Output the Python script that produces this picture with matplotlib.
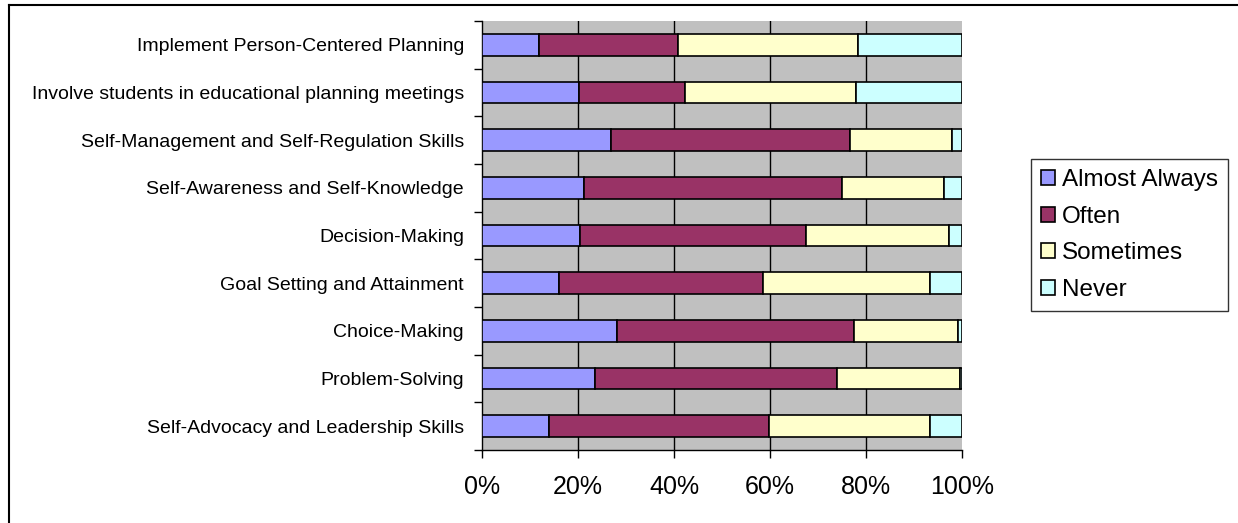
import matplotlib.pyplot as plt
import numpy as np
from matplotlib.lines import Line2D

plt.rcParams['font.family'] = ['Liberation Sans', 'DejaVu Sans']

# categories, top to bottom
categories = [
    "Implement Person-Centered Planning",
    "Involve students in educational planning meetings",
    "Self-Management and Self-Regulation Skills",
    "Self-Awareness and Self-Knowledge",
    "Decision-Making",
    "Goal Setting and Attainment",
    "Choice-Making",
    "Problem-Solving",
    "Self-Advocacy and Leadership Skills",
]

# percent of responses per category
almost_always = [11.9, 20.3, 26.9, 21.3, 20.5, 16.0, 28.2, 23.6, 13.9]
often = [29.0, 22.0, 49.7, 53.6, 47.0, 42.6, 49.4, 50.3, 45.8]
sometimes = [37.4, 35.6, 21.3, 21.4, 29.7, 34.7, 21.6, 25.7, 33.6]
never = [21.7, 22.1, 2.1, 3.7, 2.8, 6.7, 0.8, 0.4, 6.7]

series = ["Almost Always", "Often", "Sometimes", "Never"]
colors = ["#9999FF", "#993366", "#FFFFCC", "#CCFFFF"]

fig = plt.figure(figsize=(12.38, 5.23), dpi=100)
ax = fig.add_axes([482 / 1238, 1 - 450 / 523, 480 / 1238, 429 / 523])
ax.set_facecolor("#C0C0C0")

y = np.arange(len(categories))
left = np.zeros(len(categories))
for name, vals, c in zip(series, [almost_always, often, sometimes, never], colors):
    vals = np.array(vals)
    ax.barh(y, vals, left=left, height=0.45, color=c, edgecolor="black",
            linewidth=1.2, label=name, zorder=3)
    left += vals

ax.set_xlim(0, 100)
ax.set_ylim(len(categories) - 0.5, -0.5)

for gx in [20, 40, 60, 80]:
    ax.axvline(gx, color="black", linewidth=1, zorder=1)

ax.spines["top"].set_visible(False)
ax.spines["right"].set_visible(False)
ax.spines["left"].set_linewidth(1)
ax.spines["bottom"].set_linewidth(1)

ax.set_xticks([0, 20, 40, 60, 80, 100])
ax.set_xticklabels(["0%", "20%", "40%", "60%", "80%", "100%"], fontsize=18)
ax.tick_params(axis="x", direction="out", length=6, width=1, pad=12)

ax.set_yticks(y)
ax.set_yticklabels(categories, fontsize=14)
ax.set_yticks(np.arange(len(categories) + 1) - 0.5, minor=True)
ax.tick_params(axis="y", which="major", length=0, pad=13)
ax.tick_params(axis="y", which="minor", direction="out", length=6, width=1)

leg = ax.legend(loc="upper left", bbox_to_anchor=(1031 / 1238, 1 - 159 / 523),
                bbox_transform=fig.transFigure, fontsize=17.5, frameon=True,
                fancybox=False, edgecolor="black", borderaxespad=0,
                handlelength=0.55, handleheight=0.55, handletextpad=0.3,
                labelspacing=0.6, borderpad=0.42)
leg.get_frame().set_linewidth(1)

# outer chart frame
fig.add_artist(Line2D([8.5 / 1238, 8.5 / 1238], [0, 1 - 5 / 523],
                      transform=fig.transFigure, color="black", linewidth=1.5))
fig.add_artist(Line2D([8.5 / 1238, 1], [1 - 5 / 523, 1 - 5 / 523],
                      transform=fig.transFigure, color="black", linewidth=1.5))

fig.savefig("out.png", dpi=100)
